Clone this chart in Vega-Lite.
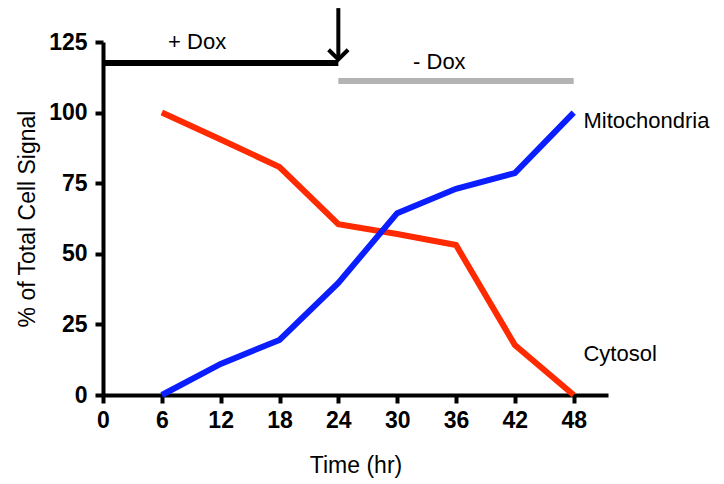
{
  "$schema": "https://vega.github.io/schema/vega-lite/v6.json",
  "width": 505,
  "height": 353,
  "autosize": "none",
  "padding": {"left": 103, "top": 42, "right": 116, "bottom": 89},
  "background": "white",
  "config": {
    "view": {"stroke": null},
    "font": "Liberation Sans",
    "axis": {
      "grid": false,
      "domainColor": "black",
      "domainWidth": 4,
      "tickColor": "black",
      "tickWidth": 4,
      "tickSize": 8,
      "labelFlush": false,
      "labelFont": "Liberation Sans",
      "labelFontSize": 23,
      "labelFontWeight": "bold",
      "labelColor": "black",
      "titleFont": "Liberation Sans",
      "titleFontSize": 23,
      "titleFontWeight": "normal",
      "titleColor": "black"
    }
  },
  "datasets": {
    "lines": [
      {"time": 6, "pct": 100, "series": "Cytosol"},
      {"time": 12, "pct": 90.5, "series": "Cytosol"},
      {"time": 18, "pct": 80.7, "series": "Cytosol"},
      {"time": 24, "pct": 60.5, "series": "Cytosol"},
      {"time": 30, "pct": 57, "series": "Cytosol"},
      {"time": 36, "pct": 53.1, "series": "Cytosol"},
      {"time": 42, "pct": 17.7, "series": "Cytosol"},
      {"time": 48, "pct": 0, "series": "Cytosol"},
      {"time": 6, "pct": 0, "series": "Mitochondria"},
      {"time": 12, "pct": 11, "series": "Mitochondria"},
      {"time": 18, "pct": 19.5, "series": "Mitochondria"},
      {"time": 24, "pct": 39.7, "series": "Mitochondria"},
      {"time": 30, "pct": 64.4, "series": "Mitochondria"},
      {"time": 36, "pct": 73, "series": "Mitochondria"},
      {"time": 42, "pct": 78.6, "series": "Mitochondria"},
      {"time": 48, "pct": 100, "series": "Mitochondria"}
    ],
    "bars": [
      {"start": 0, "end": 24, "level": 117.6, "phase": "+ Dox"},
      {"start": 24, "end": 48, "level": 111.2, "phase": "- Dox"}
    ],
    "arrow": [
      {"time": 24, "top": 137, "tip": 118.8}
    ],
    "phaseText": [
      {"time": 9.6, "pct": 125, "label": "+ Dox"},
      {"time": 34.3, "pct": 117.8, "label": "- Dox"}
    ],
    "seriesText": [
      {"time": 49.0, "pct": 97, "label": "Mitochondria"},
      {"time": 49.0, "pct": 14.5, "label": "Cytosol"}
    ]
  },
  "layer": [
    {
      "data": {"name": "lines"},
      "mark": {"type": "line", "strokeWidth": 6, "strokeJoin": "miter"},
      "encoding": {
        "x": {
          "field": "time", "type": "quantitative",
          "scale": {"domain": [0, 51.5], "nice": false, "zero": false},
          "axis": {"values": [0, 6, 12, 18, 24, 30, 36, 42, 48], "title": "Time (hr)", "titlePadding": 22, "labelPadding": 6}
        },
        "y": {
          "field": "pct", "type": "quantitative",
          "scale": {"domain": [0, 125], "nice": false},
          "axis": {"values": [0, 25, 50, 75, 100, 125], "title": "% of Total Cell Signal", "titlePadding": 9, "labelPadding": 8}
        },
        "stroke": {
          "field": "series", "type": "nominal",
          "scale": {"domain": ["Cytosol", "Mitochondria"], "range": ["#ff2a00", "#0a1eff"]},
          "legend": null
        },
        "detail": {"field": "series"}
      }
    },
    {
      "data": {"name": "bars"},
      "mark": {"type": "rule", "strokeWidth": 6},
      "encoding": {
        "x": {"field": "start", "type": "quantitative"},
        "x2": {"field": "end"},
        "y": {"field": "level", "type": "quantitative"},
        "color": {
          "field": "phase", "type": "nominal",
          "scale": {"domain": ["+ Dox", "- Dox"], "range": ["black", "#b3b3b3"]},
          "legend": null
        }
      }
    },
    {
      "data": {"name": "arrow"},
      "mark": {"type": "rule", "strokeWidth": 4, "color": "black"},
      "encoding": {
        "x": {"field": "time", "type": "quantitative"},
        "y": {"field": "top", "type": "quantitative"},
        "y2": {"field": "tip"}
      }
    },
    {
      "data": {"name": "arrow"},
      "mark": {"type": "point", "shape": "M-1,-1L0,0L1,-1", "filled": false, "stroke": "black", "strokeWidth": 4, "size": 380, "opacity": 1},
      "encoding": {
        "x": {"field": "time", "type": "quantitative"},
        "y": {"field": "tip", "type": "quantitative"}
      }
    },
    {
      "data": {"name": "phaseText"},
      "mark": {"type": "text", "fontSize": 22, "font": "Liberation Sans", "color": "black", "baseline": "middle", "align": "center"},
      "encoding": {
        "x": {"field": "time", "type": "quantitative"},
        "y": {"field": "pct", "type": "quantitative"},
        "text": {"field": "label"}
      }
    },
    {
      "data": {"name": "seriesText"},
      "mark": {"type": "text", "fontSize": 22, "font": "Liberation Sans", "color": "black", "baseline": "middle", "align": "left"},
      "encoding": {
        "x": {"field": "time", "type": "quantitative"},
        "y": {"field": "pct", "type": "quantitative"},
        "text": {"field": "label"}
      }
    }
  ],
  "resolve": {"scale": {"color": "independent", "stroke": "independent"}}
}
